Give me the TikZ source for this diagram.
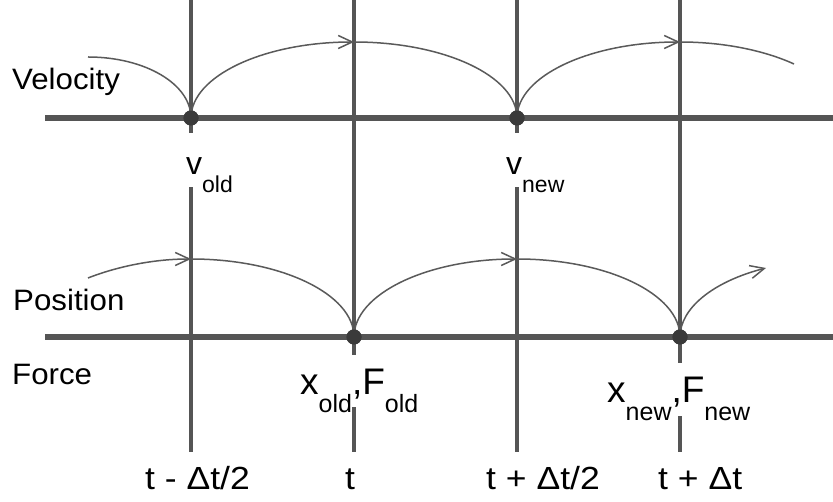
\documentclass[tikz,border=0pt]{standalone}
\usepackage{fontspec}
\setmainfont{Liberation Sans}
\newfontfamily\rowfont{Liberation Sans}[FakeStretch=1.06]
\newfontfamily\timefont{Liberation Sans}[FakeStretch=1.11]
\usetikzlibrary{arrows.meta}
\definecolor{axisgray}{HTML}{555555}
\definecolor{hopgray}{HTML}{5A5A5A}
\definecolor{dotgray}{HTML}{3A3A3A}
\newcommand{\lowered}[2][25]{\raisebox{-18pt}{\fontsize{#1}{#1}\selectfont #2}}

\begin{document}
\begin{tikzpicture}[
  x=1pt, y=1pt,
  axis/.style={line width=5.5pt, draw=axisgray},
  tick/.style={line width=3.5pt, draw=axisgray},
  hop/.style={line width=1.5pt, draw=hopgray},
  hoparr/.style={hop, -{Straight Barb[length=14pt, width=13pt]}},
  dot/.style={circle, fill=dotgray, inner sep=0pt, minimum size=15pt},
  rowlab/.style={font=\rowfont\fontsize{29.5}{34}\selectfont, anchor=base west, inner sep=0pt},
  timelab/.style={font=\timefont\fontsize{32}{36}\selectfont, anchor=base west, inner sep=0pt},
  varlab/.style={fill=white, anchor=base west, inner xsep=3pt, inner ysep=0pt}
]
\useasboundingbox[fill=white] (0,0) rectangle (833,502);

\foreach \x/\n in {191/a, 354/b, 517/c, 680/d} {
  \coordinate (top\n) at (\x,502);
  \coordinate (bot\n) at (\x,50);
  \draw[tick] (top\n) -- (bot\n);
}
\coordinate (vstart) at (45,384);
\coordinate (vend)   at (833,384);
\coordinate (pstart) at (45,165);
\coordinate (pend)   at (833,165);
\draw[axis] (vstart) -- (vend);
\draw[axis] (pstart) -- (pend);

\node[rowlab] (velo) at (12,412) {Velocity};
\node[rowlab] (posi) at (13,191) {Position};
\node[rowlab] (forc) at (12,117) {Force};

\node[varlab, font=\fontsize{32}{36}\selectfont, text height=42pt, text depth=12pt]
     (vlabold) at (183,327) {v\lowered[23]{old}};
\node[varlab, font=\fontsize{32}{36}\selectfont, text height=42pt, text depth=12pt]
     (vlabnew) at (503,327) {v\lowered[23]{new}};
\node[varlab, font=\fontsize{37}{40}\selectfont, text height=40pt, text depth=12pt]
     (xflabold) at (297,107) {x\lowered{old},F\lowered{old}};
\node[varlab, font=\fontsize{37}{40}\selectfont, text height=40pt, text depth=13pt]
     (xflabnew) at (604,99) {x\lowered{new},F\lowered{new}};

\node[timelab] (tminus) at (145,12) {t - Δt/2};
\node[timelab] (tnow)   at (345,12) {t};
\node[timelab] (thalf)  at (486,12) {t + Δt/2};
\node[timelab] (tfull)  at (658,12) {t + Δt};

\node[dot] (vold) at (191,384) {};
\node[dot] (vnew) at (517,384) {};
\node[dot] (xold) at (354,165) {};
\node[dot] (xnew) at (680,165) {};

\coordinate (vin)    at (88,445);
\coordinate (vpeakA) at (354,460);
\coordinate (vpeakB) at (680,460);
\coordinate (vout)   at (794,438);
\draw[hop] (vin) .. controls +(57,0) and +(0,34) .. (vold.center);
\draw[hoparr] (vold.center) .. controls +(0,42) and +(-90,0) .. (vpeakA);
\draw[hop] (vpeakA) .. controls +(90,0) and +(0,42) .. (vnew.center);
\draw[hoparr] (vnew.center) .. controls +(0,42) and +(-90,0) .. (vpeakB);
\draw[hop] (vpeakB) .. controls +(42.6,0) and +(-30.5,13.9) .. (vout);

\coordinate (pin)    at (88,224);
\coordinate (ppeakA) at (191,243);
\coordinate (ppeakB) at (517,243);
\coordinate (pout)   at (766,234);
\draw[hoparr] (pin) .. controls +(29.1,11.4) and +(-37.5,0) .. (ppeakA);
\draw[hop] (ppeakA) .. controls +(90,0) and +(0,43) .. (xold.center);
\draw[hoparr] (xold.center) .. controls +(0,43) and +(-90,0) .. (ppeakB);
\draw[hop] (ppeakB) .. controls +(90,0) and +(0,43) .. (xnew.center);
\draw[hoparr] (xnew.center) .. controls +(0,28.7) and +(-52.9,-13.6) .. (pout);

\node[dot] at (vold) {};
\node[dot] at (vnew) {};
\node[dot] at (xold) {};
\node[dot] at (xnew) {};
\end{tikzpicture}
\end{document}
